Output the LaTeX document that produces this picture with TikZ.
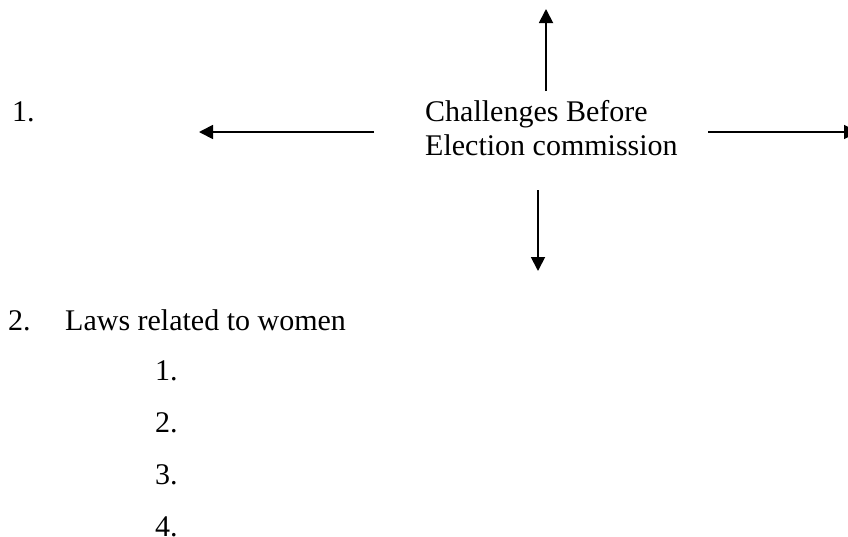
\documentclass[tikz,border=0pt]{standalone}
\usepackage{fontspec}
\setmainfont{Liberation Serif}
\usetikzlibrary{arrows.meta}
\begin{document}
\begin{tikzpicture}[x=1pt,y=-1pt,
  lbl/.style={anchor=base west,inner sep=0pt,font=\fontsize{30}{34.5}\selectfont},
  arr/.style={line width=1.8pt,-{Triangle[length=14pt,width=14pt]}}]
\useasboundingbox (0,0) rectangle (848,536);
\clip (0,0) rectangle (848,536);
\node[lbl] (n1) at (12,121) {1.};
\node[lbl] (ec1) at (425,121) {Challenges Before};
\node[lbl] (ec2) at (425,155) {Election commission};
\node[lbl] (n2) at (8,330) {2.};
\node[lbl] (laws) at (65,330) {Laws related to women};
\node[lbl] (s1) at (155,380) {1.};
\node[lbl] (s2) at (155,432) {2.};
\node[lbl] (s3) at (155,484) {3.};
\node[lbl] (s4) at (155,536) {4.};
\coordinate (lA) at (374,132); \coordinate (lB) at (199,132);
\coordinate (uA) at (546,91);  \coordinate (uB) at (546,9);
\coordinate (dA) at (538,190); \coordinate (dB) at (538,271);
\coordinate (rA) at (708,132); \coordinate (rB) at (858,132);
\draw[arr] (lA) -- (lB);
\draw[arr] (uA) -- (uB);
\draw[arr] (dA) -- (dB);
\draw[arr] (rA) -- (rB);
\end{tikzpicture}
\end{document}
